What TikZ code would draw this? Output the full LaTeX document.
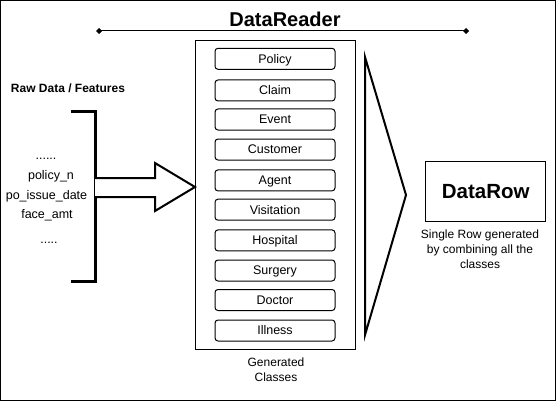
\documentclass[tikz,border=0pt]{standalone}
\usepackage{fontspec}
\setmainfont{Liberation Sans}
\usetikzlibrary{arrows.meta}
\begin{document}
\begin{tikzpicture}[x=1pt,y=-1pt]
			\useasboundingbox (0,0) rectangle (556,401);
			\draw[line width=1pt] (0.5,0.5) rectangle (555.5,400.5);
			% title with bar
			\node (title)[anchor=base, font=\fontsize{20}{24}\selectfont\bfseries] at (285,26.7) {DataReader};
			\coordinate (barl) at (96,31);
			\coordinate (barr) at (469,31);
			\draw[line width=1pt, {Diamond[length=6pt,width=6pt]}-{Diamond[length=6pt,width=6pt]}] (barl) -- (barr);
			% raw data side
			\node (raw)[font=\fontsize{12}{14}\selectfont\bfseries] at (68,88) {Raw Data / Features};
			\begin{scope}[every node/.style={anchor=base, font=\fontsize{12.5}{15}\selectfont}]
				\node (dots1) at (46,159) {......};
				\node (policy) at (51,179.5) {policy\_n};
				\node (issue) at (46.5,199) {po\_issue\_date};
				\node (face) at (47,218) {face\_amt};
				\node (dots2) at (49,243.5) {.....};
			\end{scope}
			\draw[line width=3pt] (71,111.5) -- (95,111.5) -- (95,281.5) -- (71,281.5);
			\draw[line width=2pt, fill=white] (95,178) -- (155,178) -- (155,163) -- (195,187) -- (155,211) -- (155,197) -- (95,197);
			% generated classes
			\node (gen)[draw, line width=1pt, minimum width=160.5pt, minimum height=309.5pt, inner sep=0pt] at (275.5,195.2) {};
			\begin{scope}[every node/.style={draw, rounded corners=3pt, line width=1pt, minimum width=120pt, minimum height=21pt, inner sep=0pt, text height=8.9pt, text depth=0pt, font=\fontsize{12.5}{15}\selectfont}]
				\foreach \cls/\ypos in {Policy/58.8, Claim/90.5, Event/119.5, Customer/149.5, Agent/180.4, Visitation/209.7, Hospital/240.4, Surgery/270.5, Doctor/300, Illness/330.5}
					\node (\cls) at (275,\ypos) {\cls};
			\end{scope}
			\node (genlbl)[align=center, font=\fontsize{12}{15}\selectfont] at (276,369.5) {Generated\\Classes};
			% combine into one row
			\draw[line width=2pt] (365,57) -- (406,195) -- (365,335) -- cycle;
			\node (row)[draw, line width=1pt, minimum width=120pt, minimum height=59.6pt, font=\fontsize{20.5}{24}\selectfont\bfseries] at (485.7,191.5) {DataRow};
			\node (rowlbl)[align=center, font=\fontsize{12}{15}\selectfont] at (480,249.5) {Single Row generated\\by combining all the\\classes};
		\end{tikzpicture}
\end{document}
